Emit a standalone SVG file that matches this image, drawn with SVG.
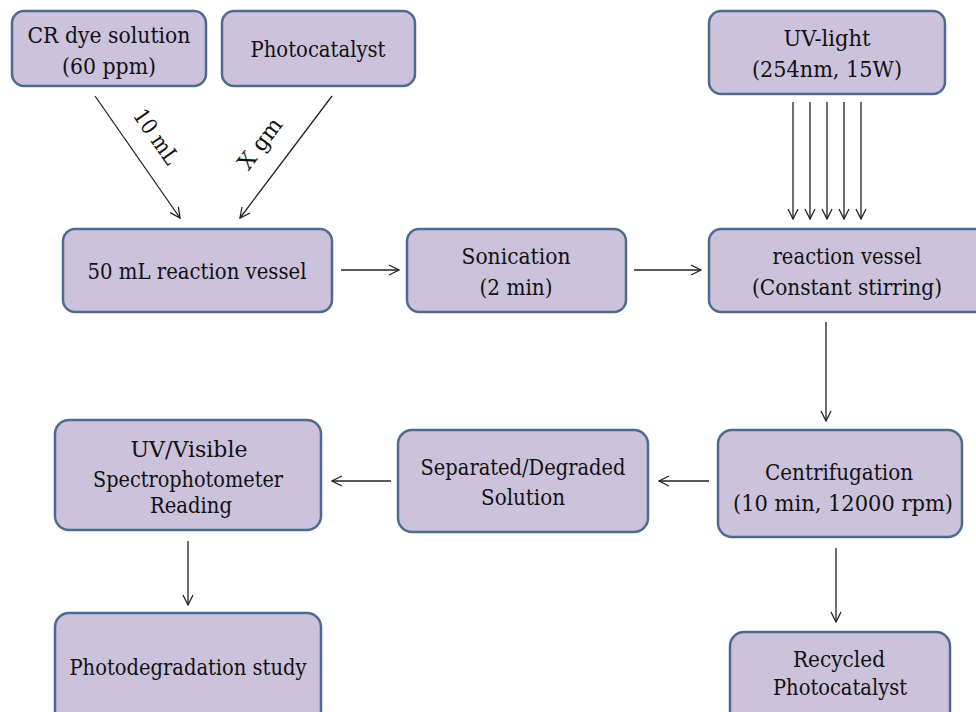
<svg xmlns="http://www.w3.org/2000/svg" width="976" height="712" viewBox="0 0 976 712">
<style>
.box{fill:#CCC2DC;stroke:#4E6B8E;stroke-width:2.5}
.t text{font-family:'DejaVu Serif','Liberation Serif',serif;font-size:22px;fill:#111;text-anchor:middle}
.ln{stroke:#222;stroke-width:1.3;fill:none;marker-end:url(#ah)}
</style>
<defs>
<marker id="ah" viewBox="0 0 12 12" refX="11" refY="6" markerWidth="12" markerHeight="12" markerUnits="userSpaceOnUse" orient="auto">
<path d="M1,1 L11,6 L1,11" fill="none" stroke="#222" stroke-width="1.3"/>
</marker>
</defs>
<rect width="976" height="712" fill="#fff"/>
<g class="t">
<g id="n-cr"><rect class="box" x="12" y="11" width="194" height="75" rx="12"/><text x="109" y="43" textLength="163" lengthAdjust="spacingAndGlyphs">CR dye solution</text><text x="109" y="74" textLength="94" lengthAdjust="spacingAndGlyphs">(60 ppm)</text></g>
<g id="n-pc"><rect class="box" x="222" y="11" width="193" height="75" rx="12"/><text x="318" y="57" textLength="135" lengthAdjust="spacingAndGlyphs">Photocatalyst</text></g>
<g id="n-uv"><rect class="box" x="709" y="11" width="236" height="83" rx="12"/><text x="827" y="46" textLength="87" lengthAdjust="spacingAndGlyphs">UV-light</text><text x="827" y="77" textLength="150" lengthAdjust="spacingAndGlyphs">(254nm, 15W)</text></g>
<g id="n-v50"><rect class="box" x="63" y="229" width="269" height="83" rx="12"/><text x="197" y="279" textLength="219" lengthAdjust="spacingAndGlyphs">50 mL reaction vessel</text></g>
<g id="n-son"><rect class="box" x="407" y="229" width="219" height="83" rx="12"/><text x="516" y="264" textLength="109" lengthAdjust="spacingAndGlyphs">Sonication</text><text x="516" y="295" textLength="73" lengthAdjust="spacingAndGlyphs">(2 min)</text></g>
<g id="n-rv"><rect class="box" x="709" y="229" width="280" height="83" rx="12"/><text x="847" y="264" textLength="149" lengthAdjust="spacingAndGlyphs">reaction vessel</text><text x="847" y="295" textLength="190" lengthAdjust="spacingAndGlyphs">(Constant stirring)</text></g>
<g id="n-uvvis"><rect class="box" x="55" y="420" width="266" height="110" rx="14"/><text x="189" y="457" textLength="117" lengthAdjust="spacingAndGlyphs">UV/Visible</text><text x="188" y="487" textLength="190" lengthAdjust="spacingAndGlyphs">Spectrophotometer</text><text x="191" y="513" textLength="82" lengthAdjust="spacingAndGlyphs">Reading</text></g>
<g id="n-sep"><rect class="box" x="398" y="430" width="250" height="102" rx="14"/><text x="523" y="475" textLength="205" lengthAdjust="spacingAndGlyphs">Separated/Degraded</text><text x="523" y="505" textLength="84" lengthAdjust="spacingAndGlyphs">Solution</text></g>
<g id="n-cen"><rect class="box" x="718" y="430" width="244" height="107" rx="14"/><text x="839" y="480" textLength="148" lengthAdjust="spacingAndGlyphs">Centrifugation</text><text x="843" y="511" textLength="220" lengthAdjust="spacingAndGlyphs">(10 min, 12000 rpm)</text></g>
<g id="n-pds"><rect class="box" x="55" y="613" width="266" height="112" rx="14"/><text x="188" y="675" textLength="237" lengthAdjust="spacingAndGlyphs">Photodegradation study</text></g>
<g id="n-rec"><rect class="box" x="730" y="632" width="220" height="100" rx="14"/><text x="839" y="667" textLength="92" lengthAdjust="spacingAndGlyphs">Recycled</text><text x="840" y="695" textLength="134" lengthAdjust="spacingAndGlyphs">Photocatalyst</text></g>
<g id="connectors">
<line class="ln" x1="95" y1="96" x2="180" y2="218"/>
<line class="ln" x1="332" y1="96" x2="240" y2="218"/>
<line class="ln" x1="341" y1="270" x2="399" y2="270"/>
<line class="ln" x1="634" y1="270" x2="701" y2="270"/>
<line class="ln" x1="793" y1="102" x2="793" y2="219"/>
<line class="ln" x1="810" y1="102" x2="810" y2="219"/>
<line class="ln" x1="827" y1="102" x2="827" y2="219"/>
<line class="ln" x1="844" y1="102" x2="844" y2="219"/>
<line class="ln" x1="861" y1="102" x2="861" y2="219"/>
<line class="ln" x1="826" y1="322" x2="826" y2="421"/>
<line class="ln" x1="709" y1="481" x2="659" y2="481"/>
<line class="ln" x1="391" y1="481" x2="332" y2="481"/>
<line class="ln" x1="188" y1="541" x2="188" y2="605"/>
<line class="ln" x1="836" y1="548" x2="836" y2="622"/>
<text transform="translate(150,141) rotate(55)" textLength="62" lengthAdjust="spacingAndGlyphs">10 mL</text>
<text transform="translate(266,148) rotate(-53)" textLength="58" lengthAdjust="spacingAndGlyphs">X gm</text>
</g>
</g>
</svg>
